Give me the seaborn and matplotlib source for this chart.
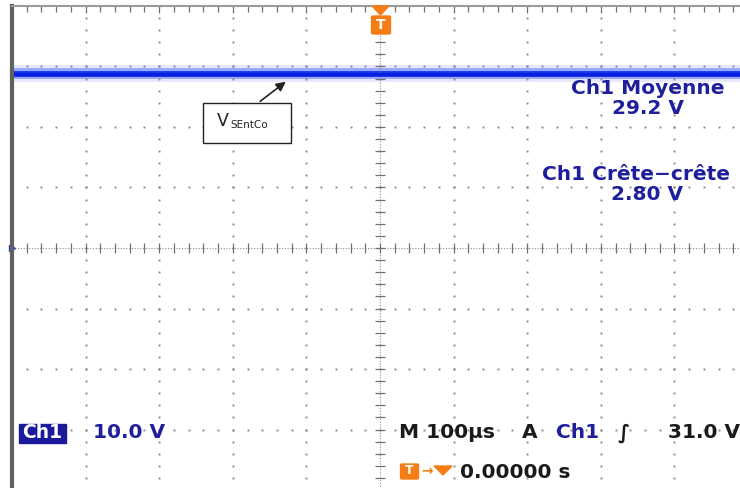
import numpy as np
import pandas as pd
import matplotlib.pyplot as plt
import seaborn as sns
from matplotlib.patches import Rectangle, FancyBboxPatch, Polygon

# Oscilloscope capture: Ch1, 10 V/div, 100 us/div
trace_time_us = [-500, -250, 0, 250, 500]
trace_volts = [28.8, 28.8, 28.8, 28.8, 28.8]
peak_to_peak = 2.80
mean_volts = 29.2
trigger_level = 31.0

volts_per_div = 10.0
us_per_div = 100.0

meas_labels = ["Ch1 Moyenne", "Ch1 Crête\u2212crête"]
meas_values = ["29.2 V", "2.80 V"]

W, H = 740, 488
BLUE_TXT = "#1f1f9e"
TRACE = "#1030f0"
ORANGE = "#f57d14"
GRID = "#8c8c8c"
BLACK_TXT = "#1a1a1a"

sns.set_style("white")
plt.rcParams["font.family"] = ["DejaVu Sans"]

fig = plt.figure(figsize=(W / 100, H / 100), dpi=100)
# screen: left edge at 12 px, top at 6 px, 10 x 8 divisions
left, top, dx, dy = 12, 6, 73.6, 60.5
ax = fig.add_axes([left / W, 1 - (top + 8 * dy) / H, 10 * dx / W, 8 * dy / H])
ax.set_xlim(-5 * us_per_div, 5 * us_per_div)
ax.set_ylim(-4 * volts_per_div, 4 * volts_per_div)

# graticule dots
xmaj = np.arange(-5, 6) * us_per_div
ymaj = np.arange(-4, 5) * volts_per_div
xmin = np.arange(-25, 26) * us_per_div / 5
ymin = np.arange(-20, 21) * volts_per_div / 5
for xv in xmaj[1:-1]:
    if xv != 0:
        ax.plot([xv] * len(ymin), ymin, ls="none", marker="s", ms=1.4, color=GRID, mew=0)
for yv in ymaj[1:-1]:
    if yv != 0:
        ax.plot(xmin, [yv] * len(xmin), ls="none", marker="s", ms=1.4, color=GRID, mew=0)
# centre cross
ax.axhline(0, color=GRID, lw=0.8, ls=(0, (1, 1.5)))
ax.axvline(0, color=GRID, lw=0.8, ls=(0, (1, 1.5)))
ax.plot(xmin, [0] * len(xmin), ls="none", marker="|", ms=7, color="#707070", mew=0.9)
ax.plot([0] * len(ymin), ymin, ls="none", marker="_", ms=7, color="#707070", mew=0.9)

ax.set_xticks(xmaj)
ax.set_yticks(ymaj)
ax.set_xticks(xmin, minor=True)
ax.set_yticks(ymin, minor=True)
ax.tick_params(which="both", direction="in", top=True, right=True, labelleft=False,
               labelbottom=False, color="#707070", width=0.9)
ax.tick_params(which="major", length=5)
ax.tick_params(which="minor", length=4)
for s in ax.spines.values():
    s.set_color("#9a9a9a")
    s.set_linewidth(1.5)
ax.spines["left"].set_color("#606060")
ax.spines["left"].set_linewidth(3)

# trace
df = pd.DataFrame({"t": trace_time_us, "v": trace_volts})
ax.fill_between(df["t"], df["v"] - peak_to_peak / 2, df["v"] + peak_to_peak / 2,
                color=TRACE, alpha=0.10, lw=0)
ax.fill_between(df["t"], df["v"] - 0.9, df["v"] + 0.9, color=TRACE, alpha=0.35, lw=0)
ax.fill_between(df["t"], df["v"] - 0.5, df["v"] + 0.5, color=TRACE, alpha=0.9, lw=0)
sns.lineplot(data=df, x="t", y="v", ax=ax, color="#0a20e0", lw=2.5)
ax.set_xlabel("")
ax.set_ylabel("")

# ground marker at centre left
ax.plot([-5 * us_per_div], [0], marker=">", ms=4, color="#1f3fbf", clip_on=False)
# trigger level marker on right edge
ax.plot([4.99 * us_per_div], [trigger_level - 0.5], marker="<", ms=9, color="#1a3cc8",
        clip_on=False)


def px(x, y):
    return x / W, 1 - y / H


fs = 14.5
kw = dict(fontsize=fs, color=BLUE_TXT, fontweight="bold", ha="center", va="center")
fig.text(*px(648, 89), meas_labels[0], **kw)
fig.text(*px(648, 108), meas_values[0], **kw)
fig.text(*px(636, 174), meas_labels[1], **kw)
fig.text(*px(647, 194), meas_values[1], **kw)

# bottom status line
bfs = 14.5
fig.patches.append(Rectangle(px(19, 443), 47 / W, 19 / H, transform=fig.transFigure,
                             color="#1a1a9a", zorder=5))
fig.text(*px(42.5, 433), "Ch1", fontsize=13.5, color="white", fontweight="bold",
         ha="center", va="center", zorder=6)
fig.text(*px(93, 433), "10.0 V", fontsize=bfs, color=BLUE_TXT, fontweight="bold", va="center")
fig.text(*px(399, 433), "M 100\u00b5s", fontsize=bfs, color=BLACK_TXT, va="center",
         fontweight="bold")
fig.text(*px(522, 433), "A", fontsize=bfs, color=BLACK_TXT, va="center", fontweight="bold")
fig.text(*px(556, 433), "Ch1", fontsize=bfs, color=BLUE_TXT, va="center", fontweight="bold")
fig.text(*px(618, 433), "\u222b", fontsize=bfs, color=BLACK_TXT, va="center", fontweight="bold")
fig.text(*px(740, 433), f"{trigger_level:.1f} V", fontsize=bfs, color=BLACK_TXT,
         va="center", ha="right", fontweight="bold")

# trigger position readout
fig.patches.append(FancyBboxPatch(px(402, 478), 15 / W, 13 / H, transform=fig.transFigure,
                                  boxstyle="round,pad=0.002", color=ORANGE, zorder=5))
fig.text(*px(409.5, 471), "T", fontsize=9, color="white", fontweight="bold",
         ha="center", va="center", zorder=6)
fig.text(*px(427, 471), "\u2192", fontsize=10, color=ORANGE, ha="center", va="center",
         fontweight="bold")
fig.patches.append(Polygon([px(434, 466), px(452, 466), px(443, 475)], closed=True,
                           transform=fig.transFigure, color=ORANGE))
fig.text(*px(460, 472), "0.00000 s", fontsize=bfs, color=BLACK_TXT, va="center",
         fontweight="bold")

# trigger marker at top centre
fig.patches.append(Polygon([px(372, 6), px(389, 6), px(380.5, 15)], closed=True,
                           transform=fig.transFigure, color=ORANGE, zorder=5))
fig.patches.append(FancyBboxPatch(px(373, 33), 16 / W, 16 / H, transform=fig.transFigure,
                                  boxstyle="round,pad=0.002", color=ORANGE, zorder=5))
fig.text(*px(381, 25), "T", fontsize=10, color="white", fontweight="bold",
         ha="center", va="center", zorder=6)

# label box with arrow to the trace
fig.patches.append(Rectangle(px(203, 143), 88 / W, 40 / H, transform=fig.transFigure,
                             facecolor="white", edgecolor="#222222", lw=1, zorder=5))
fig.text(*px(217, 121), "V", fontsize=12.5, color="#222222", va="center", zorder=6)
fig.text(*px(230, 125), "SEntCo", fontsize=7.5, color="#222222", va="center", zorder=6)
ax.annotate("", xy=px(288, 80), xytext=px(258, 103), xycoords="figure fraction",
            textcoords="figure fraction",
            arrowprops=dict(arrowstyle="-|>", color="#222222", lw=1.2, mutation_scale=14))

fig.savefig("out.png", dpi=100)
